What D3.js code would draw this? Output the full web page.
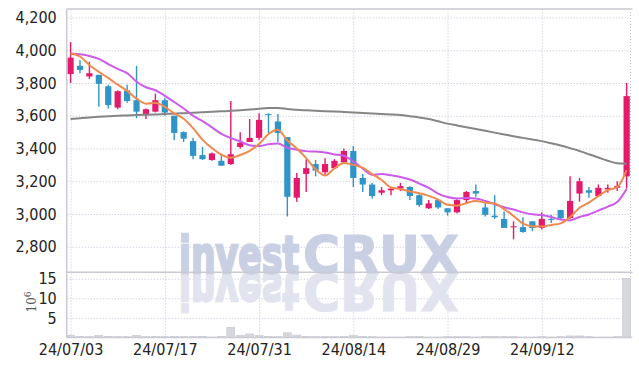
<!DOCTYPE html>
<html>
<head>
<meta charset="utf-8">
<script src="https://cdn.jsdelivr.net/npm/d3@7"></script>
<style>
  body { margin: 0; background: #fff; }
  svg { display: block; }
  .tick text { font-family: "Liberation Sans Narrow", "DejaVu Sans Condensed", sans-serif; font-size: 16px; fill: #222; }
</style>
</head>
<body>
<div id="chart"></div>
<script>
// trading days (yy/mm/dd)
var dates = ["24/07/03","24/07/04","24/07/05","24/07/08","24/07/09","24/07/10","24/07/11","24/07/12","24/07/15","24/07/16",
             "24/07/17","24/07/18","24/07/19","24/07/22","24/07/23","24/07/24","24/07/25","24/07/26","24/07/29","24/07/30",
             "24/07/31","24/08/01","24/08/02","24/08/05","24/08/06","24/08/07","24/08/08","24/08/09","24/08/12","24/08/13",
             "24/08/14","24/08/16","24/08/19","24/08/20","24/08/21","24/08/22","24/08/23","24/08/26","24/08/27","24/08/28",
             "24/08/29","24/08/30","24/09/02","24/09/03","24/09/04","24/09/05","24/09/06","24/09/09","24/09/10","24/09/11",
             "24/09/12","24/09/13","24/09/19","24/09/20","24/09/23","24/09/24","24/09/25","24/09/26","24/09/27","24/09/30"];

var opens  = [3855,3905,3840,3850,3780,3650,3755,3695,3610,3625, 3695,3600,3500,3445,3360,3330,3325,3305,3410,3440,
              3465,3610,3565,3470,3100,3245,3305,3255,3280,3315, 3385,3220,3180,3130,3145,3155,3165,3115,3035,3085,
              3035,3010,3085,3140,3040,2990,2970,2920,2920,2955, 2915,2970,3025,2975,3125,3145,3110,3150,3160,3230];
var highs  = [4050,3940,3930,3850,3790,3755,3790,3905,3645,3735, 3710,3600,3505,3465,3410,3375,3365,3690,3500,3580,
              3615,3615,3610,3470,3250,3335,3330,3340,3335,3400, 3415,3245,3190,3165,3165,3190,3170,3120,3085,3090,
              3035,3090,3140,3180,3075,3115,3015,2955,2980,2955, 3010,2995,3025,3230,3220,3165,3180,3180,3200,3800];
var lows   = [3800,3860,3825,3655,3645,3640,3680,3585,3580,3620, 3600,3450,3440,3335,3330,3325,3295,3300,3400,3440,
              3450,3495,3440,2985,3075,3135,3230,3240,3275,3310, 3165,3135,3095,3115,3115,3140,3085,3045,3030,3030,
              2990,3005,3060,3105,2985,2970,2915,2845,2885,2895, 2905,2945,2970,2970,3075,3100,3105,3130,3140,3155];
var closes = [3955,3880,3860,3795,3665,3750,3690,3625,3640,3695, 3620,3495,3460,3355,3335,3370,3295,3365,3435,3465,
              3575,3605,3495,3105,3220,3280,3265,3305,3325,3385, 3220,3180,3110,3145,3155,3170,3110,3055,3065,3040,
              3010,3085,3135,3125,2995,2980,2915,2925,2890,2915, 2970,2965,2975,3080,3200,3130,3160,3160,3170,3720];

// moving averages as shown (5, 10 and long period)
var ma5   = [3980,3962,3910,3868,3831,3790,3752,3705,3674,3680, 3654,3615,3582,3525,3453,3403,3363,3344,3360,3386,
             3427,3489,3515,3449,3400,3341,3273,3235,3279,3312, 3300,3283,3244,3208,3162,3152,3138,3127,3111,3088,
             3056,3051,3067,3079,3070,3064,3030,2988,2941,2925, 2923,2933,2943,2981,3038,3070,3109,3146,3164,3268];
var ma10  = [3980,3975,3965,3947,3916,3886,3860,3808,3774,3756, 3722,3684,3644,3600,3567,3529,3489,3463,3443,3420,
             3415,3426,3430,3405,3393,3384,3381,3375,3364,3356, 3321,3278,3240,3244,3237,3226,3211,3186,3160,3125,
             3104,3095,3097,3095,3079,3060,3041,3028,3010,2998, 2994,2982,2966,2961,2982,2997,3021,3045,3073,3153];
var ma_long = [3580,3585,3590,3594,3597,3600,3602,3604,3606,3608, 3611,3613,3616,3618,3621,3624,3627,3630,3634,3638,
               3643,3647,3648,3642,3636,3633,3630,3628,3626,3623, 3620,3617,3614,3611,3608,3604,3597,3590,3580,3566,
               3552,3541,3530,3519,3508,3497,3486,3475,3465,3455, 3445,3432,3418,3402,3385,3365,3345,3325,3310,3307];

// volume, millions of shares
var volumes = [0.6,0.3,0.2,0.5,0.3,0.2,0.2,0.5,0.2,0.3, 0.2,0.3,0.2,0.2,0.3,0.1,0.3,2.6,0.5,0.9,
               0.5,0.3,0.2,1.2,0.6,0.3,0.2,0.2,0.2,0.3, 0.5,0.3,0.2,0.1,0.1,0.1,0.2,0.3,0.1,0.1,
               0.2,0.2,0.2,0.1,0.3,0.3,0.2,0.2,0.1,0.1, 0.2,0.1,0.2,0.4,0.4,0.2,0.1,0.1,0.2,15.1];

var price_ticks = [2800,3000,3200,3400,3600,3800,4000,4200];
var volume_ticks = [5,10,15];
var date_ticks = ["24/07/03","24/07/17","24/07/31","24/08/14","24/08/29","24/09/12"];

// layout
var chart_width = 639;
var chart_height = 366;
var plot_left = 66.7;
var plot_right = 630.5;
var price_top = 9;
var price_bottom = 272.3;
var volume_bottom = 337.5;
var up_color = '#e5196c';
var down_color = '#2f95c8';
var grid_color = '#bcc1d2';
var border_color = '#c9cad3';

var svg = d3.select('#chart')
            .append('svg')
            .attr('width', chart_width)
            .attr('height', chart_height);

var x = d3.scalePoint()
          .domain(dates)
          .range([plot_left, plot_right])
          .padding(0.41);
var step = x.step();

var y = d3.scaleLinear()
          .domain([2644, 4252])
          .range([price_bottom, price_top]);

var y_vol = d3.scaleLinear()
              .domain([0, 16.63])
              .range([volume_bottom, price_bottom]);

// grid lines
svg.append('g')
    .attr('transform', 'translate(' + plot_left + ',0)')
    .call(d3.axisLeft(y).tickValues(price_ticks).tickSize(-(plot_right - plot_left)).tickFormat(''))
    .call(function(g){ g.select('.domain').remove(); })
    .selectAll('line')
    .attr('stroke', grid_color)
    .attr('stroke-dasharray', '1,2');

svg.append('g')
    .attr('transform', 'translate(' + plot_left + ',0)')
    .call(d3.axisLeft(y_vol).tickValues(volume_ticks).tickSize(-(plot_right - plot_left)).tickFormat(''))
    .call(function(g){ g.select('.domain').remove(); })
    .selectAll('line')
    .attr('stroke', grid_color)
    .attr('stroke-dasharray', '1,2');

svg.append('g')
    .attr('transform', 'translate(0,' + volume_bottom + ')')
    .call(d3.axisBottom(x).tickValues(date_ticks).tickSize(-(volume_bottom - price_top)).tickFormat(''))
    .call(function(g){ g.select('.domain').remove(); })
    .selectAll('line')
    .attr('stroke', grid_color)
    .attr('stroke-dasharray', '1,2');

svg.append('line')
    .attr('x1', plot_right).attr('x2', plot_right)
    .attr('y1', price_top).attr('y2', volume_bottom)
    .attr('stroke', grid_color)
    .attr('stroke-dasharray', '1,2');

// watermark and its reflection
var mark_base = 273;
var mark = svg.append('g');
function mark_text(g, fill) {
    g.append('text')
        .attr('x', 179).attr('y', mark_base)
        .attr('textLength', 120).attr('lengthAdjust', 'spacingAndGlyphs')
        .attr('font-family', 'DejaVu Sans').attr('font-weight', 'bold').attr('font-size', 52)
        .attr('fill', fill).attr('stroke', fill).attr('stroke-width', 2.5)
        .text('invest');
    g.append('text')
        .attr('x', 303).attr('y', mark_base)
        .attr('textLength', 156).attr('lengthAdjust', 'spacingAndGlyphs')
        .attr('font-family', 'DejaVu Sans').attr('font-weight', 'bold').attr('font-size', 52)
        .attr('fill', fill).attr('stroke', fill).attr('stroke-width', 1.2)
        .text('CRUX');
}
mark_text(mark.append('g').attr('transform', 'translate(0,' + (2 * mark_base) + ') scale(1,-1)'), '#e1e4ef');
mark_text(mark.append('g'), '#c9d0e4');

// volume bars
svg.selectAll('rect.vol')
    .data(volumes)
    .enter()
    .append('rect')
    .attr('class', 'vol')
    .attr('x', function(d, i){ return x(dates[i]) - step * 0.42; })
    .attr('y', function(d){ return y_vol(d); })
    .attr('width', step * 0.84)
    .attr('height', function(d){ return volume_bottom - y_vol(d); })
    .attr('fill', '#d6d6dd')
    .attr('stroke', '#c4c4cc')
    .attr('stroke-width', 0.6);

// candles
var candles = svg.selectAll('g.candle')
    .data(dates)
    .enter()
    .append('g')
    .attr('class', 'candle')
    .attr('fill', function(d, i){ return closes[i] >= opens[i] ? up_color : down_color; })
    .attr('stroke', function(d, i){ return closes[i] >= opens[i] ? up_color : down_color; });

candles.append('line')
    .attr('x1', function(d){ return x(d); })
    .attr('x2', function(d){ return x(d); })
    .attr('y1', function(d, i){ return y(highs[i]); })
    .attr('y2', function(d, i){ return y(lows[i]); })
    .attr('stroke-width', 1.4);

candles.append('rect')
    .attr('x', function(d){ return x(d) - step * 0.33; })
    .attr('y', function(d, i){ return y(Math.max(opens[i], closes[i])); })
    .attr('width', step * 0.66)
    .attr('height', function(d, i){ return Math.max(1, Math.abs(y(opens[i]) - y(closes[i]))); })
    .attr('stroke', 'none');

// moving average lines
var ma_line = function(values) {
    return d3.line()
             .x(function(d, i){ return x(dates[i]); })
             .y(function(d){ return y(d); })
             .curve(d3.curveMonotoneX)(values);
};

svg.append('path').attr('d', ma_line(ma_long)).attr('fill', 'none').attr('stroke', '#858585').attr('stroke-width', 2);
svg.append('path').attr('d', ma_line(ma10)).attr('fill', 'none').attr('stroke', '#cc5bec').attr('stroke-width', 2);
svg.append('path').attr('d', ma_line(ma5)).attr('fill', 'none').attr('stroke', '#ef8a4f').attr('stroke-width', 2);

// frame
svg.append('line').attr('x1', plot_left).attr('x2', plot_left).attr('y1', price_top).attr('y2', volume_bottom)
    .attr('stroke', border_color).attr('stroke-width', 1.5);
[price_top, price_bottom, volume_bottom].forEach(function(yy){
    svg.append('line').attr('x1', plot_left).attr('x2', plot_right + 2).attr('y1', yy).attr('y2', yy)
        .attr('stroke', border_color).attr('stroke-width', 1.5);
});

// axes labels
svg.append('g')
    .attr('transform', 'translate(' + (plot_left - 7) + ',0)')
    .call(d3.axisLeft(y).tickValues(price_ticks).tickSize(0).tickFormat(d3.format(',')))
    .call(function(g){ g.select('.domain').remove(); });

svg.append('g')
    .attr('transform', 'translate(' + (plot_left - 7) + ',0)')
    .call(d3.axisLeft(y_vol).tickValues(volume_ticks).tickSize(0))
    .call(function(g){ g.select('.domain').remove(); });

svg.append('g')
    .attr('transform', 'translate(0,' + volume_bottom + ')')
    .call(d3.axisBottom(x).tickValues(date_ticks).tickSize(0).tickPadding(6))
    .call(function(g){ g.select('.domain').remove(); });

var unit = svg.append('text')
    .attr('transform', 'translate(36,302) rotate(-90)')
    .attr('text-anchor', 'middle')
    .attr('font-family', 'DejaVu Serif')
    .attr('font-size', 12)
    .attr('fill', '#555');
unit.append('tspan').text('10');
unit.append('tspan').attr('dy', -5).attr('font-size', 9).text('6');
</script>
</body>
</html>
